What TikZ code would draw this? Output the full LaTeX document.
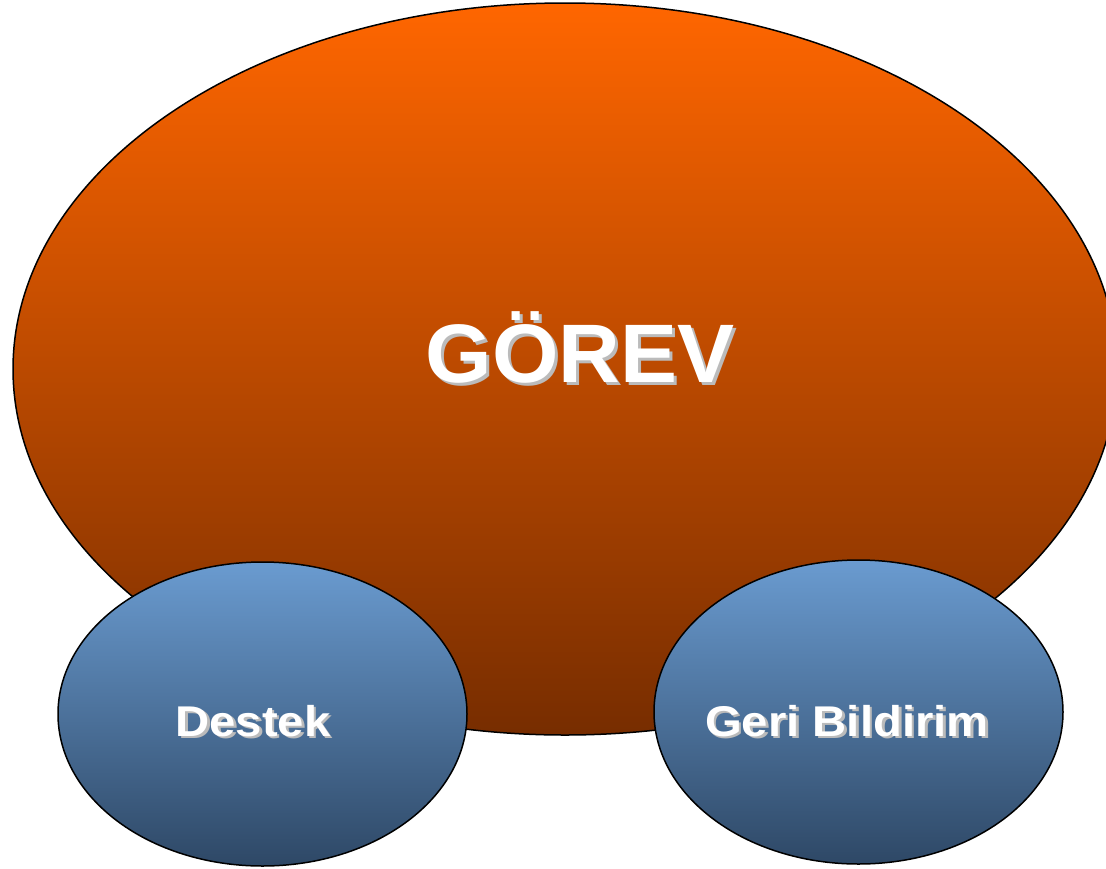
\documentclass[tikz,border=0pt]{standalone}
\usepackage{fontspec}
\setmainfont{Liberation Sans}
\usetikzlibrary{shapes.geometric}

\definecolor{turuncuUst}{HTML}{FF6600}
\definecolor{turuncuAlt}{HTML}{772D00}
\definecolor{maviUst}{HTML}{6A9BD0}
\definecolor{maviAlt}{HTML}{2E4866}
\definecolor{golge}{HTML}{BBBBBB}

% golgeli beyaz yazi
\newcommand{\golgeli}[3]{\scalebox{#2}[1]{\makebox[0pt][l]{\hspace{#3}\raisebox{-#3}{\color{golge}#1}}\color{white}#1}}

\begin{document}
\begin{tikzpicture}[x=1pt, y=-1pt,
  buyuk/.style={draw, line width=1.5pt, ellipse, inner sep=0pt, top color=turuncuUst, bottom color=turuncuAlt},
  kucuk/.style={draw, line width=1.5pt, ellipse, inner sep=0pt, minimum width=409pt, minimum height=304pt, top color=maviUst, bottom color=maviAlt},
  yazi/.style={inner sep=0pt, anchor=base, font=\bfseries}]
  \useasboundingbox (0,0) rectangle (1106,868);
  \clip (0,0) rectangle (1106,868);

  % Gorev
  \node[buyuk, minimum width=1104pt, minimum height=732pt] (gorev) at (565,369) {};
  \node[yazi, font=\bfseries\fontsize{83}{86}\selectfont] (gorevYazi) at (580,382) {\golgeli{GÖREV}{1.03}{3pt}};

  % Destek
  \node[kucuk] (destek) at (262.5,714) {};
  \node[yazi, font=\bfseries\fontsize{43}{46}\selectfont] (destekYazi) at (253,736) {\golgeli{Destek}{1.1}{2.5pt}};

  % Geri Bildirim
  \node[kucuk] (geri) at (858.5,712) {};
  \node[yazi, font=\bfseries\fontsize{43}{46}\selectfont] (geriYazi) at (847,736) {\golgeli{Geri Bildirim}{1.1}{2.5pt}};
\end{tikzpicture}
\end{document}
